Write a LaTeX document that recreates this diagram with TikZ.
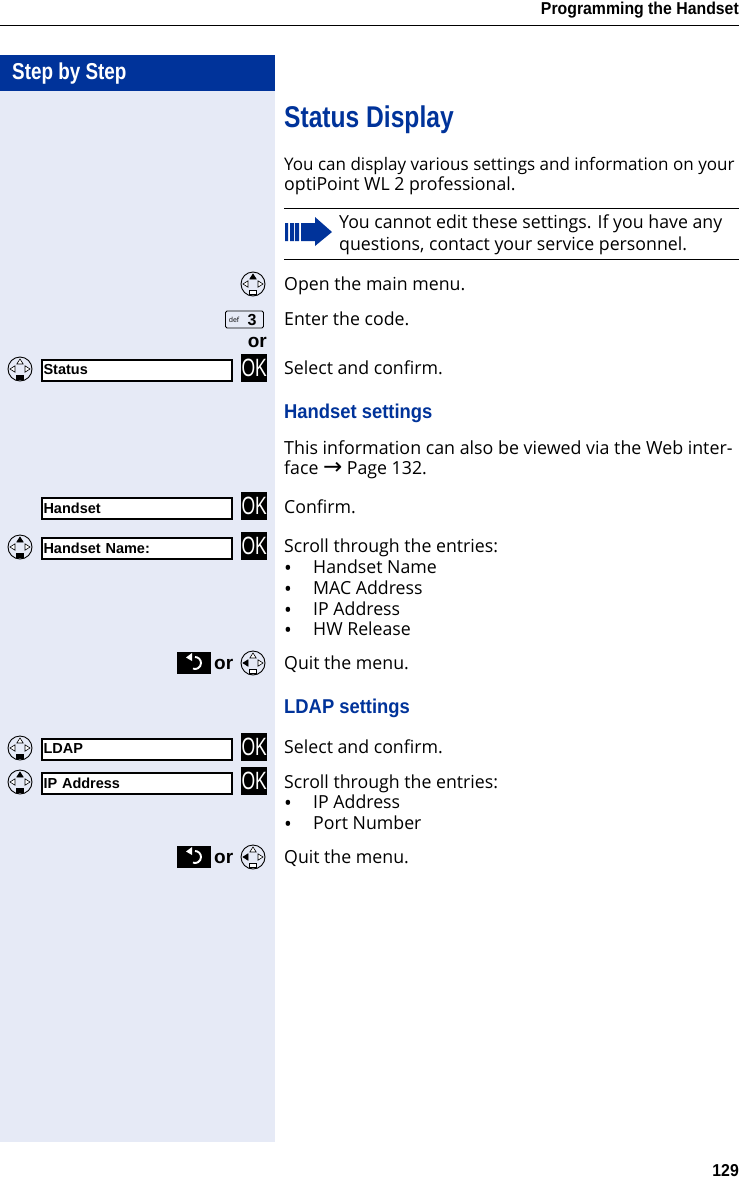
\documentclass[tikz,border=0pt]{standalone}
\usepackage{fontspec}
\usetikzlibrary{positioning}
\setmainfont[FakeStretch=0.985]{Open Sans}
\newfontfamily\narrowfont[FakeStretch=0.82]{Liberation Sans}
\newfontfamily\labelfont[FakeStretch=0.92]{Liberation Sans}
\newfontfamily\boxfont{Liberation Sans}
\newfontfamily\okfont[FakeStretch=0.7]{Liberation Sans}
\newfontfamily\arrowfont{DejaVu Sans}
\definecolor{panelblue}{HTML}{E6EAF6}
\definecolor{headblue}{HTML}{00339A}
\tikzset{
  pics/navkey/.style n args={3}{code={
    \draw[line width=.9pt] (0,0) circle (12);
    \draw[line width=.6pt,fill=#1] (-3.2,-5) -- (0,-10) -- (3.2,-5) -- cycle;
    \draw[line width=.6pt,fill=#2] (-5,-3.2) -- (-10,0) -- (-5,3.2) -- cycle;
    \draw[line width=.6pt,fill=white] (5,-3.2) -- (10,0) -- (5,3.2) -- cycle;
    \draw[line width=.7pt,fill=#3] (-3.5,6) rectangle (3.5,10);
  }},
  pics/backkey/.style={code={
    \fill (-17,-11) rectangle (17,11);
    \draw[white,line width=1.9pt] (1,-6) arc (-90:110:6);
    \fill[white] (-8,-5.5) -- (-2,-10) -- (-2,-2) -- cycle;
  }}
}
\begin{document}
\begin{tikzpicture}[x=1pt,y=-1pt]
\tikzstyle{bodytext}=[anchor=base west,inner sep=0pt,font=\fontsize{18}{20}\selectfont]
\tikzstyle{bulletmark}=[anchor=base west,inner sep=0pt,yshift=-2pt,font=\fontsize{21}{20}\selectfont]
\tikzstyle{bluehead}=[anchor=base west,inner sep=0pt,text=headblue,font=\labelfont\bfseries\fontsize{20}{22}\selectfont]
\tikzstyle{boldtext}=[inner sep=0pt,font=\labelfont\bfseries\fontsize{17.2}{20}\selectfont]
\tikzstyle{ortext}=[inner sep=0pt,font=\boxfont\bfseries\fontsize{19}{20}\selectfont]
\tikzstyle{display}=[draw,line width=2pt,fill=white,inner xsep=1.5pt,inner ysep=0pt,minimum height=21pt,text width=187pt,align=left,font=\boxfont\bfseries\fontsize{14.5}{16}\selectfont]
\tikzstyle{okkey}=[fill=black,text=white,inner sep=0pt,minimum width=26pt,minimum height=28pt,yshift=2.5pt,font=\okfont\fontsize{25}{25}\selectfont]
\useasboundingbox (0,0) rectangle (739,1178);
\fill[white] (0,0) rectangle (739,1178);
\fill[panelblue] (0,91) rectangle (275,1142);
\fill[headblue] (0,55) rectangle (275,91);
\draw[line width=.9pt] (0,25) -- (739,25);
\node[boldtext,anchor=base east] (running) at (739,14) {Programming the Handset};
\node[boldtext,anchor=base east] (pagenr) at (739,1176) {129};
\node[anchor=base west,inner sep=0pt,text=white,font=\narrowfont\bfseries\fontsize{23}{24}\selectfont] (stepbystep) at (12,79) {Step by Step};
\node[anchor=base west,inner sep=0pt,text=headblue,font=\narrowfont\bfseries\fontsize{30}{32}\selectfont] (title) at (284,127) {Status Display};
\node[bodytext,font=\fontsize{17.3}{20}\selectfont] (intro1) at (284,170) {You can display various settings and information on your};
\node[bodytext] (intro2) at (284,190) {optiPoint WL 2 professional.};
% note with the arrow
\draw[line width=.9pt] (284,208) -- (739,208);
\draw[line width=.9pt] (284,259) -- (739,259);
\fill[headblue] (285,223) rectangle (288,241) (290,223) rectangle (294,241) (295,223) rectangle (299,241);
\fill[headblue] (301,223) -- (315,223) -- (315,217) -- (332,232) -- (315,246) -- (315,241) -- (301,241) -- cycle;
\node[bodytext] (note1) at (339,228) {You cannot edit these settings. If you have any};
\node[bodytext] (note2) at (339,250) {questions, contact your service personnel.};
% main menu
\pic at (253,284) {navkey={black}{white}{white}};
\node[bodytext] (openmenu) at (284,290) {Open the main menu.};
\node[draw,line width=.9pt,rounded corners=1.5pt,inner sep=0pt,minimum width=38pt,minimum height=17pt] (code) at (244.5,319.5) {};
\node[inner sep=0pt,font=\fontsize{7}{7}\selectfont] (codedef) at (234,320) {def};
\node[inner sep=0pt,font=\boxfont\bfseries\fontsize{16}{16}\selectfont] (codethree) at (252,319.5) {3};
\node[bodytext] (entercode) at (284,325) {Enter the code.};
\node[ortext,anchor=base east] (orcode) at (267,347) {or};
\pic at (20,369) {navkey={white}{white}{black}};
\node[display] (statusbox) at (137,370) {Status};
\node[okkey,right=8pt of statusbox] (statusok) {OK};
\node[bodytext] (selectstatus) at (284,374) {Select and confirm.};
% handset settings
\node[bluehead] (handsethead) at (284,418) {Handset settings};
\node[bodytext,font=\fontsize{18.1}{20}\selectfont] (web1) at (284,454) {This information can also be viewed via the Web inter-};
\node[bodytext] (web2) at (284,474) {face {\arrowfont\fontsize{23}{20}\selectfont→} Page 132.};
\node[display] (handsetbox) at (137,508) {Handset};
\node[okkey,right=8pt of handsetbox] (handsetok) {OK};
\node[bodytext] (confirm) at (284,513) {Confirm.};
\pic at (20,547) {navkey={black}{white}{black}};
\node[display] (namebox) at (137,548) {Handset Name:};
\node[okkey,right=8pt of namebox] (nameok) {OK};
\node[bodytext] (scrollone) at (284,552) {Scroll through the entries:};
\foreach \y/\n/\t in {573/a/Handset Name,594/b/MAC Address,615/c/IP Address,635/d/HW Release}{
  \node[bulletmark] (bullet\n) at (284,\y) {•};
  \node[bodytext] (entry\n) at (313,\y) {\t};
}
\pic at (194,663) {backkey};
\node[ortext,anchor=base west] (orquit) at (214,669) {or};
\pic at (253,663) {navkey={white}{black}{white}};
\node[bodytext] (quitone) at (284,669) {Quit the menu.};
% ldap settings
\node[bluehead] (ldaphead) at (284,713) {LDAP settings};
\pic at (20,748) {navkey={white}{white}{black}};
\node[display] (ldapbox) at (137,749) {LDAP};
\node[okkey,right=8pt of ldapbox] (ldapok) {OK};
\node[bodytext] (selectldap) at (284,753) {Select and confirm.};
\pic at (20,782) {navkey={black}{white}{black}};
\node[display] (ipbox) at (137,783) {IP Address};
\node[okkey,right=8pt of ipbox] (ipok) {OK};
\node[bodytext] (scrolltwo) at (284,788) {Scroll through the entries:};
\foreach \y/\n/\t in {808/e/IP Address,829/f/Port Number}{
  \node[bulletmark] (bullet\n) at (284,\y) {•};
  \node[bodytext] (entry\n) at (313,\y) {\t};
}
\pic at (194,857) {backkey};
\node[ortext,anchor=base west] (orquittwo) at (214,863) {or};
\pic at (253,857) {navkey={white}{black}{white}};
\node[bodytext] (quittwo) at (284,863) {Quit the menu.};
\end{tikzpicture}
\end{document}
